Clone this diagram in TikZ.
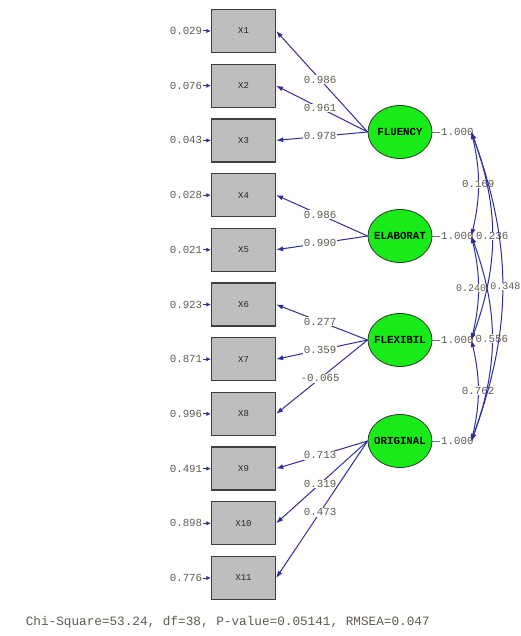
\documentclass[tikz,border=0pt]{standalone}
\usepackage{fontspec}
\setmonofont{Liberation Mono}
\usetikzlibrary{shapes.geometric,arrows.meta}
\definecolor{pathblue}{RGB}{45,45,155}
\definecolor{numgray}{RGB}{95,90,80}
\definecolor{boxgray}{RGB}{190,190,190}
\definecolor{latgreen}{RGB}{25,235,25}

\begin{document}
\begin{tikzpicture}[x=1pt,y=-1pt,>={Latex[length=7pt,width=5pt]},
  obs/.style={draw=black!75,line width=1.3pt,fill=boxgray,minimum width=64pt,minimum height=43pt,
    text=black!85,font=\ttfamily\fontsize{9}{9}\selectfont},
  lat/.style={ellipse,draw=black!80,line width=0.8pt,fill=latgreen,minimum width=64pt,minimum height=53pt,
    inner xsep=-4pt,inner ysep=0pt,font=\ttfamily\bfseries\fontsize{10.8}{10.8}\selectfont},
  num/.style={text=numgray,font=\ttfamily\fontsize{10.8}{10.8}\selectfont,inner sep=0.6pt},
  onpath/.style={num,fill=white},
  link/.style={pathblue,line width=1pt}]
\useasboundingbox (0,0) rectangle (521,636);

\foreach \i/\e in {1/0.029,2/0.076,3/0.043,4/0.028,5/0.021,6/0.923,7/0.871,8/0.996,9/0.491,10/0.898,11/0.776}{
  \node[obs] (x\i) at (243.5,{31+(\i-1)*54.7}) {X\i};
  \node[num,anchor=east] (e\i) at (203,{31+(\i-1)*54.7}) {\e};
  \draw[link,-{Latex[length=4.5pt,width=4.5pt]}] (e\i) -- (x\i);
}

\node[lat] (flu) at (400,132) {FLUENCY};
\node[lat] (ela) at (400,236) {ELABORAT};
\node[lat] (fle) at (400,340) {FLEXIBIL};
\node[lat] (ori) at (400,441) {ORIGINAL};

\foreach \f/\x/\v in {flu/1/0.986,flu/2/0.961,flu/3/0.978,ela/4/0.986,ela/5/0.990,
    fle/6/0.277,fle/7/0.359,fle/8/-0.065,ori/9/0.713,ori/10/0.319,ori/11/0.473}
  \draw[link,->] (\f.west) -- node[onpath,pos=0.52] {\v} (x\x.east);

\foreach \f in {flu,ela,fle,ori}{
  \node[num,anchor=west] (v\f) at ([xshift=8pt]\f.east) {1.000};
  \draw[black!55,line width=0.6pt] (\f.east) -- (v\f.west);
  \coordinate (c\f) at ([xshift=-3pt]v\f.east);
}

\draw[link,<->] (cflu) to[bend left=13] node[onpath] {0.169} (cela);
\draw[link,<->] (cela) to[bend left=13] node[onpath,anchor=east,xshift=9pt,font=\ttfamily\fontsize{10}{10}\selectfont] {0.240} (cfle);
\draw[link,<->] (cfle) to[bend left=13] node[onpath] {0.762} (cori);
\draw[link,<->] (cflu) to[bend left=20] node[onpath] {0.236} (cfle);
\draw[link,<->] (cela) to[bend left=20] node[onpath] {0.556} (cori);
\draw[link,<->] (cflu) to[bend left=20] node[onpath,anchor=west,xshift=-13pt,font=\ttfamily\fontsize{10}{10}\selectfont] {0.348} (cori);

\node[num,anchor=west,font=\ttfamily\fontsize{12.7}{12.7}\selectfont] (fit) at (25,622)
  {Chi-Square=53.24, df=38, P-value=0.05141, RMSEA=0.047};
\end{tikzpicture}
\end{document}
